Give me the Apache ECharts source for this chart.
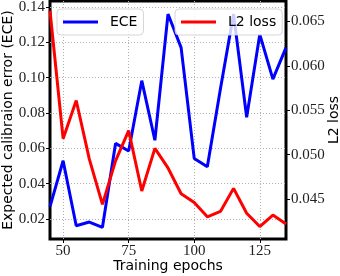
<!DOCTYPE html>
<html>
<head>
<meta charset="utf-8">
<script src="https://cdn.jsdelivr.net/npm/echarts@6/dist/echarts.min.js"></script>
<style>html,body{margin:0;padding:0;background:#fff}#c{width:340px;height:276px}</style>
</head>
<body>
<div id="c"></div>
<script>
var epochs = [45,50,55,60,65,70,75,80,85,90,95,100,105,110,115,120,125,130,135];
var ece = [0.027,0.053,0.0162,0.0183,0.0153,0.0628,0.0585,0.0983,0.0646,0.136,0.117,0.0543,0.0496,0.0937,0.136,0.0776,0.1245,0.0992,0.117];
var l2loss = [0.0662,0.0518,0.0561,0.0495,0.0444,0.0493,0.0527,0.0459,0.0507,0.0485,0.0456,0.0446,0.0430,0.0436,0.0462,0.0434,0.0419,0.0432,0.0422];
var xTicks = [50,75,100,125];
var eceTicks = [0.02,0.04,0.06,0.08,0.10,0.12,0.14];
var l2Ticks = [0.045,0.050,0.055,0.060,0.065];

var serif = 'Liberation Serif';
var sans = 'DejaVu Sans';
function pairs(xs, ys){ return xs.map(function(x,i){ return [x, ys[i]]; }); }

var chart = echarts.init(document.getElementById('c'), null, {renderer:'canvas'});
chart.setOption({
  animation:false,
  grid:{left:50,right:54,top:1,bottom:37,containLabel:false,outerBoundsMode:'none',show:true,borderColor:'#000',borderWidth:3,backgroundColor:'transparent'},
  legend:[
    {data:['ECE'],left:57,top:9,padding:[6,6,6,6],icon:'rect',itemWidth:35,itemHeight:3,
     backgroundColor:'rgba(255,255,255,0.8)',borderColor:'rgba(204,204,204,0.8)',borderWidth:1,borderRadius:4,
     textStyle:{fontFamily:sans,fontSize:14,color:'#000',padding:[2,0,2,7]}},
    {data:['L2 loss'],left:175,top:9,padding:[6,6,6,6],icon:'rect',itemWidth:35,itemHeight:3,
     backgroundColor:'rgba(255,255,255,0.8)',borderColor:'rgba(204,204,204,0.8)',borderWidth:1,borderRadius:4,
     textStyle:{fontFamily:sans,fontSize:14,color:'#000',padding:[2,0,2,7]}}
  ],
  xAxis:{type:'value',min:45,max:135,
    name:'Training epochs',nameLocation:'middle',nameGap:20,nameMoveOverlap:false,
    nameTextStyle:{fontFamily:sans,fontSize:14,color:'#000'},
    axisLine:{show:false},
    axisTick:{show:true,customValues:xTicks,length:4,inside:false,lineStyle:{color:'#000',width:1}},
    axisLabel:{customValues:xTicks,margin:5,fontFamily:serif,fontSize:15,color:'#222'},
    splitLine:{show:true,lineStyle:{color:'#b0b0b0',type:[1,2],width:1}}
  },
  yAxis:[
    {type:'value',min:0.0087,max:0.1434,position:'left',
     name:'Expected calibraion error (ECE)',nameLocation:'middle',nameGap:35,nameRotate:90,nameMoveOverlap:false,
     nameTextStyle:{fontFamily:sans,fontSize:14,color:'#000'},
     axisLine:{show:false},
     axisTick:{show:true,customValues:eceTicks,length:4,lineStyle:{color:'#000'}},
     axisLabel:{customValues:eceTicks,margin:5,fontFamily:serif,fontSize:15,color:'#222',
       formatter:function(v){return v.toFixed(2);}},
     splitLine:{show:true,lineStyle:{color:'#b0b0b0',type:[1,2],width:1}}
    },
    {type:'value',min:0.0405,max:0.0673,position:'right',
     name:'L2 loss',nameLocation:'middle',nameGap:41,nameRotate:90,nameMoveOverlap:false,
     nameTextStyle:{fontFamily:sans,fontSize:14,color:'#000'},
     axisLine:{show:false},
     axisTick:{show:true,customValues:l2Ticks,length:4,lineStyle:{color:'#000'}},
     axisLabel:{customValues:l2Ticks,margin:5,fontFamily:serif,fontSize:15,color:'#222',
       formatter:function(v){return v.toFixed(3);}},
     splitLine:{show:false}
    }
  ],
  series:[
    {name:'ECE',type:'line',yAxisIndex:0,data:pairs(epochs,ece),symbol:'none',
     lineStyle:{color:'#0000ff',width:3},itemStyle:{color:'#0000ff'},z:2},
    {name:'L2 loss',type:'line',yAxisIndex:1,data:pairs(epochs,l2loss),symbol:'none',
     lineStyle:{color:'#ff0000',width:3},itemStyle:{color:'#ff0000'},z:3}
  ]
});
</script>
</body>
</html>
